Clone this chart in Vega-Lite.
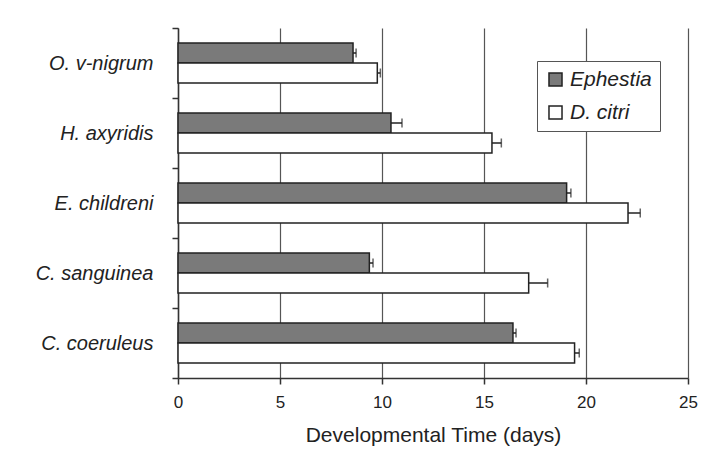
{
  "$schema": "https://vega.github.io/schema/vega-lite/v6.json",
  "width": 510,
  "height": 350,
  "autosize": {"type": "none"},
  "padding": {"left": 178, "top": 28, "right": 40, "bottom": 86},
  "background": "#ffffff",
  "config": {
    "view": {"stroke": null},
    "font": "Liberation Sans",
    "axis": {"labelColor": "#222", "titleColor": "#222", "domainColor": "#333", "tickColor": "#333", "labelFont": "Liberation Sans", "titleFont": "Liberation Sans"}
  },
  "data": {
    "values": [
      {"species": "O. v-nigrum", "diet": "Ephestia", "days": 8.58, "upper": 8.73},
      {"species": "O. v-nigrum", "diet": "D. citri", "days": 9.77, "upper": 9.92},
      {"species": "H. axyridis", "diet": "Ephestia", "days": 10.44, "upper": 10.98},
      {"species": "H. axyridis", "diet": "D. citri", "days": 15.39, "upper": 15.85},
      {"species": "E. childreni", "diet": "Ephestia", "days": 19.05, "upper": 19.26},
      {"species": "E. childreni", "diet": "D. citri", "days": 22.06, "upper": 22.66},
      {"species": "C. sanguinea", "diet": "Ephestia", "days": 9.38, "upper": 9.56},
      {"species": "C. sanguinea", "diet": "D. citri", "days": 17.19, "upper": 18.12},
      {"species": "C. coeruleus", "diet": "Ephestia", "days": 16.42, "upper": 16.57},
      {"species": "C. coeruleus", "diet": "D. citri", "days": 19.44, "upper": 19.67}
    ]
  },
  "encoding": {
    "y": {
      "field": "species",
      "type": "nominal",
      "sort": ["O. v-nigrum", "H. axyridis", "E. childreni", "C. sanguinea", "C. coeruleus"],
      "scale": {"paddingInner": 0, "paddingOuter": 0},
      "axis": {"title": null, "labelFontSize": 20, "labelFontStyle": "italic", "labelPadding": 19, "tickBand": "extent", "tickSize": 6, "domainWidth": 1.5, "tickWidth": 1.5}
    },
    "yOffset": {
      "field": "diet",
      "type": "nominal",
      "scale": {"domain": ["Ephestia", "D. citri"], "paddingInner": 0, "paddingOuter": 0.75}
    }
  },
  "layer": [
    {
      "mark": {"type": "bar", "stroke": "#222", "strokeWidth": 1.5},
      "encoding": {
        "x": {
          "field": "days",
          "type": "quantitative",
          "scale": {"domain": [0, 25], "nice": false},
          "axis": {"title": "Developmental Time (days)", "values": [0, 5, 10, 15, 20, 25], "labelFlush": false, "grid": true, "gridColor": "#555", "gridWidth": 1.2, "labelFontSize": 17, "labelPadding": 10, "titleFontSize": 21, "titleFontWeight": "normal", "titlePadding": 14, "tickSize": 6, "domainWidth": 1.5, "tickWidth": 1.5}
        },
        "fill": {
          "field": "diet",
          "type": "nominal",
          "scale": {"domain": ["Ephestia", "D. citri"], "range": ["#7a7a7a", "#ffffff"]},
          "legend": {
            "title": null,
            "orient": "none",
            "legendX": 359,
            "legendY": 33,
            "symbolType": "square",
            "symbolSize": 170,
            "symbolStrokeColor": "#222",
            "symbolStrokeWidth": 1.5,
            "labelFontSize": 21,
            "labelFontStyle": "italic",
            "labelColor": "#222",
            "labelFont": "Liberation Sans",
            "rowPadding": 11,
            "padding": 8,
            "strokeColor": "#555",
            "fillColor": "#ffffff",
            "labelLimit": 200
          }
        }
      }
    },
    {
      "mark": {"type": "rule", "color": "#222", "strokeWidth": 1.5},
      "encoding": {
        "x": {"field": "days", "type": "quantitative"},
        "x2": {"field": "upper"}
      }
    },
    {
      "mark": {"type": "tick", "color": "#222", "thickness": 1.5, "size": 9},
      "encoding": {
        "x": {"field": "upper", "type": "quantitative"}
      }
    }
  ]
}
